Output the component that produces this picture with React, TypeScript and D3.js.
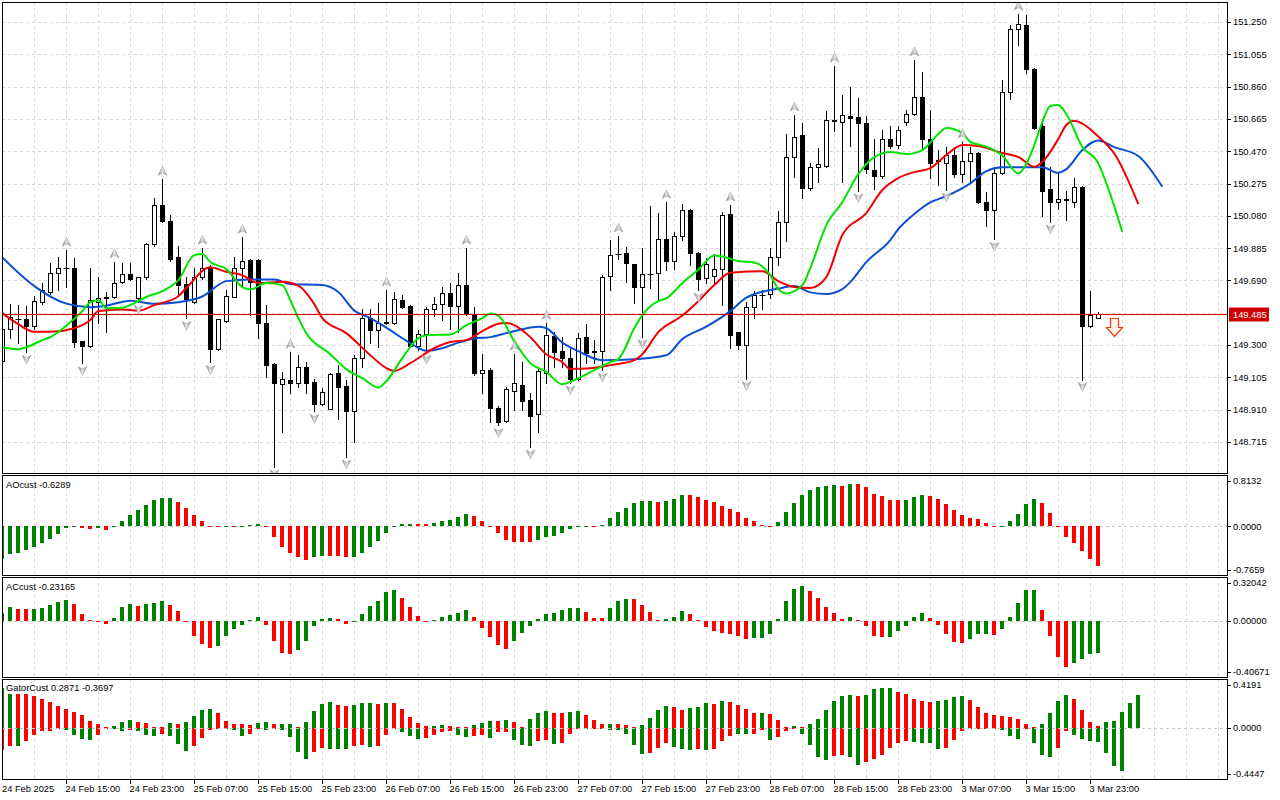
import React from "react";
import * as d3 from "d3";

// ---------- price bars (H1) ----------
const opens = [
  149.205,149.400,149.457,149.457,149.416,149.561,149.621,149.733,149.763,149.763,
  149.324,149.295,149.561,149.588,149.588,149.678,149.727,149.582,149.708,149.908,
  150.145,150.048,149.829,149.666,149.561,149.708,149.769,149.277,149.446,149.591,
  149.763,149.813,149.813,149.431,149.185,149.068,149.092,149.074,149.165,149.078,
  148.947,148.913,149.129,149.052,148.903,149.225,149.461,149.394,149.434,149.434,
  149.571,149.535,149.293,149.364,149.515,149.545,149.612,149.537,149.660,149.485,
  149.132,149.149,148.921,148.842,149.024,149.058,148.967,148.881,149.132,149.354,
  149.265,149.219,149.098,149.346,149.265,149.265,149.716,149.847,149.853,149.789,
  149.652,149.727,149.733,149.938,149.809,149.960,150.115,149.857,149.702,149.716,
  149.757,150.091,149.376,149.300,149.527,149.600,149.607,149.833,150.044,150.433,
  150.568,150.246,150.373,150.382,150.654,150.644,150.680,150.678,150.638,150.357,
  150.320,150.542,150.507,150.648,150.695,150.799,150.542,150.420,150.401,150.447,
  150.332,150.411,150.457,150.165,150.115,150.340,150.829,151.206,151.232,150.964,
  150.622,150.240,150.165,150.180,150.165,150.252,149.416,149.466,
];
const highs = [
  149.420,149.547,149.541,149.537,149.597,149.672,149.793,149.829,149.873,149.823,
  149.324,149.766,149.712,149.621,149.803,149.793,149.793,149.710,149.914,150.185,
  150.300,150.085,149.899,149.712,149.763,149.884,149.783,149.460,149.632,149.829,
  149.950,149.820,149.820,149.541,149.190,149.138,149.257,149.240,149.200,149.098,
  149.038,149.130,149.179,149.088,149.239,149.517,149.517,149.555,149.632,149.621,
  149.602,149.540,149.394,149.531,149.591,149.652,149.676,149.733,149.884,149.531,
  149.249,149.159,148.930,149.048,149.245,149.200,149.008,149.169,149.431,149.380,
  149.350,149.280,149.370,149.426,149.330,149.722,149.934,149.958,149.893,149.790,
  149.884,150.141,150.099,150.161,149.984,150.151,150.120,149.860,149.823,149.849,
  150.105,150.145,149.380,149.561,149.627,149.630,149.884,150.109,150.574,150.688,
  150.638,150.397,150.487,150.714,150.984,150.809,150.860,150.789,150.682,150.542,
  150.598,150.622,150.622,150.719,151.021,150.950,150.719,150.477,150.497,150.497,
  150.525,150.497,150.467,150.225,150.361,150.900,151.232,151.298,151.292,150.970,
  150.663,150.376,150.336,150.231,150.306,150.260,149.627,149.500,
];
const lows = [
  149.190,149.344,149.314,149.257,149.400,149.547,149.607,149.632,149.652,149.289,
  149.189,149.290,149.431,149.380,149.585,149.675,149.690,149.560,149.700,149.900,
  150.044,149.807,149.602,149.461,149.555,149.700,149.195,149.270,149.440,149.590,
  149.652,149.481,149.340,149.108,148.565,148.776,149.008,149.048,149.008,148.900,
  148.937,148.912,148.851,148.625,148.716,149.169,149.310,149.286,149.430,149.430,
  149.525,149.287,149.270,149.257,149.475,149.451,149.400,149.380,149.480,149.118,
  149.012,148.836,148.815,148.835,148.907,148.907,148.685,148.776,149.072,149.169,
  149.169,149.072,149.088,149.189,149.189,149.149,149.632,149.820,149.682,149.551,
  149.350,149.642,149.571,149.753,149.757,149.934,149.783,149.632,149.672,149.662,
  149.541,149.280,149.274,149.098,149.461,149.520,149.582,149.783,149.929,150.312,
  150.186,150.236,150.286,150.376,150.594,150.286,150.501,150.231,150.336,150.240,
  150.306,150.490,150.487,150.628,150.689,150.487,150.306,150.266,150.236,150.316,
  150.286,150.286,150.155,150.018,149.938,150.330,150.783,151.111,150.940,150.602,
  150.079,150.044,150.119,150.054,150.135,149.092,149.410,149.463,
];
const closes = [
  149.400,149.467,149.460,149.416,149.565,149.632,149.733,149.763,149.766,149.319,
  149.295,149.571,149.582,149.585,149.676,149.727,149.696,149.708,149.908,150.145,
  150.050,149.817,149.662,149.576,149.708,149.763,149.275,149.455,149.596,149.763,
  149.807,149.682,149.431,149.179,149.074,149.098,149.074,149.165,149.074,148.947,
  149.014,149.123,149.048,148.903,149.225,149.461,149.394,149.434,149.438,149.576,
  149.531,149.293,149.364,149.515,149.545,149.612,149.537,149.660,149.485,149.132,
  149.149,148.921,148.836,149.032,149.074,148.963,148.873,149.143,149.360,149.259,
  149.219,149.094,149.340,149.250,149.260,149.712,149.843,149.850,149.793,149.652,
  149.727,149.730,149.938,149.809,149.960,150.115,149.857,149.696,149.789,149.757,
  150.085,149.360,149.300,149.527,149.602,149.603,149.829,150.041,150.433,150.557,
  150.246,150.373,150.391,150.658,150.658,150.688,150.670,150.638,150.361,150.320,
  150.542,150.501,150.598,150.695,150.799,150.542,150.401,150.410,150.447,150.332,
  150.411,150.461,150.165,150.115,150.340,150.829,151.206,151.238,150.964,150.608,
  150.231,150.165,150.179,150.178,150.252,149.416,149.481,149.485,
];

// fractal bar indices
const fractalUp = [8,14,20,25,30,36,48,58,64,68,77,83,91,99,104,114,120,127];
const fractalDown = [3,10,17,23,26,34,39,43,53,62,66,71,75,80,87,93,107,118,124,131,135];

// Alligator lines: [bar index, price]
const jawIdx = [0,4,8,11,13,16,19,22,25,28,31,34,36,40,42,44,46,48,51,53,55,57,59,61,63,65,67,68,70,72,75,79,83,85,88,91,93,97,99,101,103,105,106,108,111,112,114,116,118,121,123,125,130,132,133,135,137,139,142,145];
const jawVal = [149.829,149.656,149.550,149.529,149.538,149.568,149.550,149.559,149.593,149.686,149.696,149.696,149.668,149.662,149.620,149.508,149.463,149.405,149.312,149.266,149.281,149.315,149.340,149.348,149.372,149.396,149.410,149.402,149.315,149.263,149.209,149.215,149.239,149.336,149.411,149.505,149.586,149.641,149.656,149.618,149.608,149.638,149.680,149.801,149.934,150.000,150.091,150.161,150.199,150.276,150.350,150.373,150.373,150.340,150.362,150.477,150.535,150.495,150.441,150.256];
const teethIdx = [0,2,4,6,9,11,12,15,17,19,22,23,26,28,30,32,35,37,39,40,43,46,48,49,51,54,56,58,60,62,63,64,66,68,70,71,73,76,79,80,82,85,87,89,91,95,97,99,101,103,105,108,110,112,114,116,118,120,122,125,127,129,130,132,133,134,135,137,139,142];
const teethVal = [149.493,149.426,149.380,149.380,149.402,149.451,149.505,149.515,149.508,149.541,149.595,149.644,149.769,149.742,149.722,149.674,149.682,149.659,149.547,149.463,149.372,149.239,149.161,149.144,149.191,149.281,149.318,149.330,149.384,149.429,149.434,149.420,149.348,149.245,149.197,149.155,149.158,149.179,149.209,149.245,149.378,149.478,149.565,149.662,149.737,149.746,149.686,149.650,149.644,149.710,149.964,150.097,150.236,150.308,150.344,150.368,150.447,150.507,150.501,150.459,150.435,150.376,150.405,150.544,150.628,150.654,150.637,150.559,150.456,150.151];
const lipsIdx = [0,2,3,5,6,8,10,11,12,13,15,16,18,20,22,24,25,26,28,30,31,33,35,36,37,38,41,43,45,47,48,50,52,53,56,58,60,61,62,64,66,68,70,72,74,76,77,79,80,82,83,85,87,89,90,92,94,96,97,98,100,101,103,105,107,109,111,113,115,117,118,120,121,123,125,127,128,129,130,131,132,133,135,137,138,140];
const lipsVal = [149.287,149.275,149.287,149.330,149.348,149.417,149.505,149.559,149.571,149.523,149.526,149.541,149.590,149.626,149.692,149.843,149.849,149.801,149.759,149.650,149.636,149.674,149.662,149.571,149.463,149.372,149.245,149.155,149.100,149.044,149.082,149.221,149.342,149.360,149.364,149.420,149.463,149.491,149.478,149.324,149.191,149.138,149.064,149.100,149.149,149.197,149.215,149.402,149.481,149.565,149.582,149.674,149.755,149.840,149.834,149.807,149.798,149.722,149.638,149.612,149.662,149.765,150.024,150.163,150.332,150.435,150.465,150.453,150.477,150.574,150.610,150.580,150.527,150.498,150.444,150.336,150.393,150.507,150.646,150.743,150.749,150.695,150.497,150.397,150.278,149.984];

// ---------- indicators ----------
const aoValues = [
  -0.521,-0.441,-0.426,-0.378,-0.324,-0.266,-0.197,-0.122,-0.032,-0.011,
  -0.027,-0.037,-0.030,-0.053,-0.011,0.085,0.176,0.261,0.340,0.426,
  0.452,0.457,0.388,0.287,0.181,0.085,0.011,-0.003,-0.002,-0.008,
  -0.004,0.021,0.037,-0.016,-0.165,-0.324,-0.426,-0.495,-0.532,-0.495,
  -0.468,-0.470,-0.472,-0.495,-0.494,-0.420,-0.335,-0.239,-0.112,-0.005,
  0.037,0.038,0.036,0.035,0.053,0.085,0.101,0.149,0.197,0.165,
  0.085,-0.011,-0.106,-0.213,-0.250,-0.252,-0.253,-0.213,-0.165,-0.149,
  -0.101,-0.037,-0.008,0.002,0.001,0.016,0.133,0.229,0.293,0.372,
  0.404,0.405,0.388,0.404,0.436,0.500,0.499,0.468,0.420,0.388,
  0.324,0.277,0.229,0.133,0.085,0.021,-0.005,0.069,0.229,0.372,
  0.500,0.580,0.622,0.640,0.654,0.638,0.676,0.675,0.622,0.516,
  0.484,0.420,0.419,0.420,0.463,0.500,0.484,0.436,0.356,0.261,
  0.181,0.133,0.117,0.053,0.004,0.006,0.085,0.197,0.356,0.436,
  0.372,0.213,-0.011,-0.165,-0.271,-0.399,-0.516,-0.6289,
];
const aoColors =
  "gggggggggg" + "rrgrgggggg" + "ggrrrrrrgr" + "gggrrrrrrg" + "grrrgggggg" +
  "ggrrgggggr" + "rrrrrrrggg" + "ggggrggggg" + "ggrgggrrrr" + "rrrrrrrggg" +
  "gggggrgrrr" + "rrrgggrrrr" + "rrrrrggggg" + "rrrrrrrr";
const aoRange = [-0.7659, 0.8132];
const aoLabels = ["0.8132", "0.0000", "-0.7659"];

const acValues = [
  0.053,0.096,0.084,0.083,0.084,0.091,0.112,0.136,0.148,0.120,
  0.048,0.007,-0.002,-0.022,0.019,0.096,0.120,0.108,0.120,0.127,
  0.141,0.112,0.069,-0.012,-0.108,-0.167,-0.196,-0.182,-0.108,-0.060,
  -0.029,0.005,0.024,-0.029,-0.144,-0.232,-0.239,-0.211,-0.144,-0.036,
  0.012,0.019,0.010,-0.022,-0.007,0.048,0.103,0.141,0.208,0.220,
  0.163,0.096,0.036,-0.005,0.005,0.029,0.043,0.057,0.077,0.029,
  -0.053,-0.115,-0.172,-0.201,-0.144,-0.086,-0.036,0.014,0.048,0.057,
  0.077,0.091,0.092,0.062,0.019,0.018,0.091,0.141,0.156,0.155,
  0.112,0.062,0.005,0.012,0.026,0.069,0.048,0.005,-0.043,-0.072,
  -0.086,-0.096,-0.108,-0.129,-0.122,-0.121,-0.093,0.012,0.141,0.227,
  0.249,0.211,0.163,0.098,0.057,0.012,0.024,0.005,-0.036,-0.110,
  -0.115,-0.114,-0.077,-0.036,0.024,0.053,0.019,-0.029,-0.096,-0.151,
  -0.158,-0.129,-0.093,-0.092,-0.100,-0.057,0.024,0.127,0.220,0.221,
  0.077,-0.108,-0.258,-0.335,-0.301,-0.275,-0.237,-0.23165,
];
const acColors =
  "ggrrgggggr" + "rrrrgggrgg" + "grrrrrrggg" + "gggrrrrggg" + "ggrrgggggg" +
  "rrrrgggggr" + "rrrrgggggg" + "gggrrrgggr" + "rrrgggrrrr" + "rrrrgggggg" +
  "grrrrrgrrr" + "rgggggrrrr" + "rgggrggggg" + "rrrrgggg";
const acRange = [-0.40671, 0.32042];
const acLabels = ["0.32042", "0.00000", "-0.40671"];

const gatorUp = [
  0.345,0.296,0.295,0.294,0.273,0.253,0.222,0.187,0.164,0.141,
  0.109,0.063,0.032,0.006,0.020,0.055,0.072,0.055,0.040,0.012,
  0.006,0.040,0.039,0.055,0.101,0.153,0.167,0.132,0.063,0.032,
  0.031,0.030,0.040,0.049,0.032,0.033,0.035,0.006,0.055,0.150,
  0.210,0.227,0.201,0.193,0.201,0.219,0.220,0.210,0.219,0.218,
  0.167,0.098,0.046,0.020,0.021,0.029,0.020,0.009,0.008,0.029,
  0.046,0.063,0.062,0.072,0.055,0.009,0.081,0.132,0.150,0.132,
  0.131,0.141,0.150,0.115,0.072,0.037,0.038,0.037,0.029,0.009,
  0.029,0.089,0.158,0.193,0.184,0.158,0.176,0.184,0.219,0.210,
  0.236,0.227,0.201,0.167,0.132,0.133,0.124,0.072,0.012,0.020,
  0.009,0.037,0.081,0.158,0.236,0.279,0.288,0.279,0.288,0.340,
  0.348,0.349,0.314,0.296,0.253,0.236,0.227,0.236,0.245,0.271,
  0.279,0.245,0.184,0.132,0.115,0.107,0.098,0.081,0.037,0.009,
  0.037,0.132,0.236,0.288,0.253,0.158,0.055,0.020,0.055,0.063,
  0.141,0.219,0.2871,
];
const gatorUpColors =
  "ggrrrrrrrr" + "rrrrgggrrr" + "rgrggggrrr" + "rrggrggrgg" + "ggrrgggrgr" +
  "rrrrggrrrg" + "ggrgrrgggr" + "rggrrrgrrr" + "ggggrrgggr" + "grrrrgrrrg" +
  "rggggggrgg" + "ggrrrrrggg" + "grrrrrrrrr" + "ggggrrrrgg" + "ggg";
const gatorDown = [
  -0.193,-0.158,-0.159,-0.115,-0.063,-0.029,-0.028,-0.003,-0.020,-0.063,
  -0.092,-0.101,-0.063,-0.003,-0.006,-0.029,-0.014,-0.029,-0.063,-0.072,
  -0.055,-0.072,-0.141,-0.201,-0.158,-0.089,-0.014,-0.003,-0.010,-0.020,
  -0.072,-0.055,-0.006,-0.020,-0.003,-0.014,-0.081,-0.210,-0.265,-0.210,
  -0.176,-0.178,-0.184,-0.185,-0.153,-0.144,-0.167,-0.158,-0.058,-0.009,
  -0.037,-0.072,-0.092,-0.083,-0.063,-0.037,-0.029,-0.063,-0.081,-0.072,
  -0.063,-0.089,-0.037,-0.037,-0.101,-0.150,-0.158,-0.115,-0.106,-0.141,
  -0.132,-0.055,-0.006,-0.007,-0.004,-0.003,-0.020,-0.021,-0.055,-0.150,
  -0.227,-0.219,-0.176,-0.132,-0.167,-0.184,-0.193,-0.184,-0.193,-0.184,
  -0.115,-0.072,-0.055,-0.055,-0.049,-0.020,-0.101,-0.081,-0.029,-0.006,
  -0.055,-0.150,-0.253,-0.273,-0.239,-0.230,-0.253,-0.317,-0.291,-0.265,
  -0.230,-0.176,-0.132,-0.109,-0.118,-0.127,-0.132,-0.184,-0.176,-0.101,
  -0.029,-0.006,-0.004,-0.002,-0.005,-0.020,-0.072,-0.098,-0.006,-0.132,
  -0.236,-0.253,-0.176,-0.029,-0.063,-0.098,-0.115,-0.124,-0.219,-0.331,
  -0.3697,
];
const gatorDownColors =
  "rrgrrrrrgg" + "ggrrggrggg" + "rgggrrrrgg" + "grrgrggggr" + "rgggrrgrrr" +
  "gggrrrrggr" + "rgrrgggrrg" + "rrrgrrgggg" + "grrrgggrgr" + "rrggrrgrrr" +
  "ggggrrggrr" + "rrrrggggrr" + "rgrrrgggrg" + "ggrrgggggg" + "g";
const gatorRange = [-0.4447, 0.4191];
const gatorLabels = ["0.4191", "0.0000", "-0.4447"];

// ---------- axes ----------
const priceTicks = [151.25,151.055,150.86,150.665,150.47,150.275,150.08,149.885,149.69,149.495,149.3,149.105,148.91,148.715];
const priceTickLabels = ["151.250","151.055","150.860","150.665","150.470","150.275","150.080","149.885","149.690","","149.300","149.105","148.910","148.715"];
const lastPrice = 149.485;
const lastPriceLabel = "149.485";
const timeLabelIdx = [0,8,16,24,32,40,48,56,64,72,80,88,96,104,112,120,128,136];
const timeLabels = ["24 Feb 2025","24 Feb 15:00","24 Feb 23:00","25 Feb 07:00","25 Feb 15:00","25 Feb 23:00","26 Feb 07:00","26 Feb 15:00","26 Feb 23:00","27 Feb 07:00","27 Feb 15:00","27 Feb 23:00","28 Feb 07:00","28 Feb 15:00","28 Feb 23:00","3 Mar 07:00","3 Mar 15:00","3 Mar 23:00"];

const FONT = "'Liberation Sans', Arial, sans-serif";
const FS = 9.3;
const GREEN = "#008000";
const RED = "#ff0000";
const GRID = "#d6d6d6";

const L = 2, R = 1227;
const MAIN = { top: 2, bottom: 473 };
const AOP = { top: 475, bottom: 575 };
const ACP = { top: 577, bottom: 677 };
const GTP = { top: 679, bottom: 779 };

export default function App() {
  const x = d3.scaleLinear().domain([0, 137]).range([2.3, 1098.3]);
  const cx = (i: number) => Math.round(x(i)) + 0.5;
  const yMain = d3.scaleLinear().domain([148.715, 151.25]).range([442, 22]);
  const yAO = d3.scaleLinear().domain(aoRange).range([574.2, 475.4]);
  const yAC = d3.scaleLinear().domain(acRange).range([677.4, 576]);
  const yGT = d3.scaleLinear().domain(gatorRange).range([779.5, 679.5]);

  const gridIdx = d3.range(4, 153, 4);

  const line = d3
    .line<[number, number]>()
    .x((d) => x(d[0]))
    .y((d) => yMain(d[1]))
    .curve(d3.curveMonotoneX);
  const jaw = line(jawIdx.map((k, j) => [k, jawVal[j]]));
  const teeth = line(teethIdx.map((k, j) => [k, teethVal[j]]));
  const lips = line(lipsIdx.map((k, j) => [k, lipsVal[j]]));

  const vGrid = (p: { top: number; bottom: number }) =>
    gridIdx.map((k) => (
      <line key={"vg" + k} x1={cx(k)} x2={cx(k)} y1={p.top} y2={p.bottom} stroke={GRID} strokeDasharray="3,3" />
    ));

  const hist = (vals: number[], cols: string, y: d3.ScaleLinear<number, number>, key: string) => {
    const y0 = y(0);
    return vals.map((v, i) => {
      const yv = y(v);
      const t = Math.round(Math.min(y0, yv));
      const b = Math.round(Math.max(y0, yv));
      return (
        <rect
          key={key + i}
          x={Math.floor(cx(i)) - 2}
          y={t}
          width={4}
          height={Math.max(1, b - t)}
          fill={cols[i] === "g" ? GREEN : RED}
        />
      );
    });
  };

  const zeroLine = (y: d3.ScaleLinear<number, number>) => (
    <line x1={L} x2={R} y1={Math.round(y(0)) + 0.5} y2={Math.round(y(0)) + 0.5} stroke="#c8c8c8" strokeDasharray="3,3" />
  );

  const paneLabels = (
    labels: string[],
    p: { top: number; bottom: number },
    y: d3.ScaleLinear<number, number>
  ) => {
    const ys = [p.top + 5.5, y(0), p.bottom - 5.5];
    return labels.map((t, j) => (
      <g key={t}>
        <line x1={R} x2={R + 4} y1={Math.round(ys[j]) + 0.5} y2={Math.round(ys[j]) + 0.5} stroke="#000" />
        <text x={1233} y={ys[j] + 3.4} fontSize={FS} fontFamily={FONT} fill="#000">
          {t}
        </text>
      </g>
    ));
  };

  const arrowUp = "M0,-5 L4.5,4 L0,1.6 L-4.5,4 Z";
  const arrowDown = "M0,5 L4.5,-4 L0,-1.6 L-4.5,-4 Z";
  const yLast = Math.round(yMain(lastPrice)) + 0.5;

  return (
    <svg width={1280} height={800} style={{ position: "absolute", left: 0, top: 0, background: "#fff" }}>
      <defs>
        <clipPath id="cMain"><rect x={L} y={MAIN.top} width={R - L} height={MAIN.bottom - MAIN.top} /></clipPath>
        <clipPath id="cAO"><rect x={L} y={AOP.top} width={R - L} height={AOP.bottom - AOP.top} /></clipPath>
        <clipPath id="cAC"><rect x={L} y={ACP.top} width={R - L} height={ACP.bottom - ACP.top} /></clipPath>
        <clipPath id="cGT"><rect x={L} y={GTP.top} width={R - L} height={GTP.bottom - GTP.top} /></clipPath>
        <linearGradient id="frac" x1="0" x2="1" y1="0" y2="0">
          <stop offset="0" stopColor="#7c7c7c" />
          <stop offset="0.5" stopColor="#e2e2e2" />
          <stop offset="1" stopColor="#8e8e8e" />
        </linearGradient>
      </defs>
      <rect x={0} y={0} width={1280} height={800} fill="#fff" />

      {/* ---------- main pane ---------- */}
      <g clipPath="url(#cMain)">
        {vGrid(MAIN)}
        {priceTicks.map((p) => (
          <line key={"hg" + p} x1={L} x2={R} y1={Math.round(yMain(p)) + 0.5} y2={Math.round(yMain(p)) + 0.5} stroke={GRID} strokeDasharray="3,3" />
        ))}
        {opens.map((o, i) => {
          const c = closes[i];
          const X = cx(i);
          const yo = yMain(o), yc = yMain(c);
          const t = Math.round(Math.min(yo, yc));
          const b = Math.round(Math.max(yo, yc));
          const bull = c >= o;
          return (
            <g key={"c" + i}>
              <line x1={X} x2={X} y1={Math.round(yMain(highs[i]))} y2={Math.round(yMain(lows[i])) + 1} stroke="#000" />
              {b - t < 1 ? (
                <line x1={X - 3} x2={X + 3} y1={t + 0.5} y2={t + 0.5} stroke="#000" />
              ) : (
                <rect x={X - 2} y={t + 0.5} width={4} height={b - t} fill={bull ? "#fff" : "#000"} stroke="#000" />
              )}
            </g>
          );
        })}
        <path d={jaw || ""} fill="none" stroke="#0a4fd4" strokeWidth={2} />
        <path d={teeth || ""} fill="none" stroke="#f00000" strokeWidth={2} />
        <path d={lips || ""} fill="none" stroke="#00e400" strokeWidth={2} />
        <line x1={L} x2={R} y1={yLast} y2={yLast} stroke="#e00000" />
        {fractalUp.map((i) => (
          <path key={"fu" + i} d={arrowUp} transform={`translate(${cx(i)},${yMain(highs[i]) - 8})`} fill="url(#frac)" stroke="#a0a0a0" strokeWidth={0.5} />
        ))}
        {fractalDown.map((i) => (
          <path key={"fd" + i} d={arrowDown} transform={`translate(${cx(i)},${yMain(lows[i]) + 7})`} fill="url(#frac)" stroke="#a0a0a0" strokeWidth={0.5} />
        ))}
        <path
          d={`M${cx(139) - 4},${yLast + 4} H${cx(139) + 4} V${yLast + 13} H${cx(139) + 8} L${cx(139)},${yLast + 22} L${cx(139) - 8},${yLast + 13} H${cx(139) - 4} Z`}
          fill="#fff4ee"
          stroke="#f03a10"
          strokeWidth={1.2}
        />
      </g>
      <rect x={L + 0.5} y={MAIN.top + 0.5} width={R - L} height={MAIN.bottom - MAIN.top} fill="none" stroke="#000" />
      {priceTicks.map((p, j) =>
        priceTickLabels[j] ? (
          <g key={"pl" + p}>
            <line x1={R} x2={R + 4} y1={Math.round(yMain(p)) + 0.5} y2={Math.round(yMain(p)) + 0.5} stroke="#000" />
            <text x={1233} y={yMain(p) + 3.4} fontSize={FS} fontFamily={FONT} fill="#000">
              {priceTickLabels[j]}
            </text>
          </g>
        ) : null
      )}
      <rect x={1229} y={yLast - 7} width={40} height={14} fill="#cc0000" />
      <text x={1233} y={yLast + 3.4} fontSize={FS} fontFamily={FONT} fill="#fff">
        {lastPriceLabel}
      </text>

      {/* ---------- AO pane ---------- */}
      <g clipPath="url(#cAO)">
        {vGrid(AOP)}
        {zeroLine(yAO)}
        {hist(aoValues, aoColors, yAO, "ao")}
      </g>
      <rect x={L + 0.5} y={AOP.top + 0.5} width={R - L} height={AOP.bottom - AOP.top} fill="none" stroke="#000" />
      <text x={6} y={487.5} fontSize={FS} fontFamily={FONT} fill="#000">AOcust -0.6289</text>
      {paneLabels(aoLabels, AOP, yAO)}

      {/* ---------- AC pane ---------- */}
      <g clipPath="url(#cAC)">
        {vGrid(ACP)}
        {zeroLine(yAC)}
        {hist(acValues, acColors, yAC, "ac")}
      </g>
      <rect x={L + 0.5} y={ACP.top + 0.5} width={R - L} height={ACP.bottom - ACP.top} fill="none" stroke="#000" />
      <text x={6} y={590} fontSize={FS} fontFamily={FONT} fill="#000">ACcust -0.23165</text>
      {paneLabels(acLabels, ACP, yAC)}

      {/* ---------- Gator pane ---------- */}
      <g clipPath="url(#cGT)">
        {vGrid(GTP)}
        {hist(gatorUp, gatorUpColors, yGT, "gu")}
        {hist(gatorDown, gatorDownColors, yGT, "gd")}
        {zeroLine(yGT)}
      </g>
      <rect x={L + 0.5} y={GTP.top + 0.5} width={R - L} height={GTP.bottom - GTP.top} fill="none" stroke="#000" />
      <text x={6} y={691} fontSize={FS} fontFamily={FONT} fill="#000">GatorCust 0.2871 -0.3697</text>
      {paneLabels(gatorLabels, GTP, yGT)}

      {/* ---------- time axis ---------- */}
      {timeLabelIdx.map((k, j) => (
        <g key={"t" + k}>
          {k > 0 && <line x1={cx(k)} x2={cx(k)} y1={GTP.bottom} y2={GTP.bottom + 5} stroke="#000" />}
          <text x={k === 0 ? 2 : cx(k) - 1} y={792} fontSize={FS} fontFamily={FONT} fill="#000">
            {timeLabels[j]}
          </text>
        </g>
      ))}
    </svg>
  );
}
